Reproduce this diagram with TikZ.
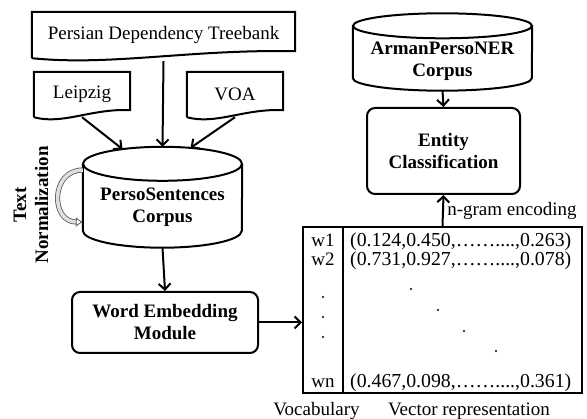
\documentclass[tikz,border=0pt]{standalone}
\usepackage{fontspec}
\setmainfont{Liberation Serif}
\usetikzlibrary{shapes.geometric,arrows.meta,calc}

\tikzset{
  docbox/.style={inner sep=0pt},
  dbase/.style={inner sep=0pt, align=center, minimum height=46pt, font=\fontsize{19}{22}\selectfont\bfseries},
  procbox/.style={rectangle, draw, rounded corners=8pt, line width=2pt, font=\fontsize{19}{22}\selectfont\bfseries, align=center},
  flow/.style={line width=2pt, -{Straight Barb[length=6pt,width=12pt]}},
  normflow/.style={draw=gray!70!black, line width=0.8pt, double=gray!25, double distance=3.5pt, -{Latex[length=7pt,width=10pt,open]}},
}

\begin{document}
\begin{tikzpicture}[x=1pt,y=-1pt,font=\fontsize{19}{22}\selectfont]
\useasboundingbox (0,0) rectangle (587,419);

% sources
\node[docbox, minimum width=263pt, minimum height=46pt] (treebank) at (163.5,35) {Persian Dependency Treebank};
\node[docbox, minimum width=96pt, minimum height=45pt] (leipzig) at (82,94.5) {Leipzig};
\node[docbox, minimum width=96pt, minimum height=45pt] (voa) at (235,94.5) {VOA};
\foreach \n in {treebank,leipzig,voa}
  \draw[line width=2pt] (\n.south west) -- (\n.north west) -- (\n.north east) -- ([yshift=7pt]\n.south east)
    .. controls ($(\n.south east)!0.4!(\n.south west)+(0,9pt)$) and ($(\n.south east)!0.7!(\n.south west)+(0,-8pt)$) .. (\n.south west);

% corpora: text node, cylinder drawn round it
\node[dbase, minimum width=159pt] (sent) at (162.5,207.5) {PersoSentences\\Corpus};
\node[dbase, minimum width=179pt] (arman) at (442.5,61) {ArmanPersoNER\\Corpus};
\foreach \n/\rx/\ry/\up/\dn in {sent/79.5/17/20.5/0,arman/89.5/12.5/12/6}
  \draw[line width=2pt] ([yshift=\up pt]\n.north) ellipse [x radius=\rx pt, y radius=\ry pt]
    ([yshift=\up pt]\n.north west) -- ([yshift=\dn pt]\n.south west)
    arc[start angle=180, end angle=360, x radius=\rx pt, y radius=\ry pt] -- ([yshift=\up pt]\n.north east);
\node[rotate=90, align=center, font=\fontsize{19}{22}\selectfont\bfseries] (norm) at (31,205) {Text\\Normalization};

% modules
\node[procbox, minimum width=186pt, minimum height=61pt] (we) at (165,322.5) {Word Embedding\\Module};
\node[procbox, minimum width=153pt, minimum height=86pt] (entity) at (443.5,151) {Entity\\Classification};

% embedding matrix
\node[draw, line width=2pt, minimum width=279pt, minimum height=166pt, inner sep=0pt] (vecmat) at (442.5,310) {};
\draw[line width=2pt] ([xshift=41pt]vecmat.north west) -- ([xshift=41pt]vecmat.south west);
\node[anchor=base] (w1) at (323,247) {w1};
\node[anchor=base] (w2) at (323,266) {w2};
\node[anchor=base] (wn) at (323,388) {wn};
\begin{scope}[font=\fontsize{19.8}{22}\selectfont]
\node[anchor=base west, inner sep=0pt] (v1) at (350,247) {(0.124,0.450,……....,0.263)};
\node[anchor=base west, inner sep=0pt] (v2) at (350,266) {(0.731,0.927,……....,0.078)};
\node[anchor=base west, inner sep=0pt] (vn) at (350,388) {(0.467,0.098,……....,0.361)};
\end{scope}
\foreach \x/\y in {323/297,323/317,323/337,411/289,438/310,464/331,496/351}
  \fill (\x,\y) circle (1.1pt);
\node (vocab) at (316.5,411) {Vocabulary};
\node (vecrep) at (469,411) {Vector representation};

% connectors
\draw[flow] ([yshift=-3pt]treebank.south) -- ([yshift=37.5pt]sent.north);
\draw[flow] (leipzig.south) -- ([xshift=-40pt,yshift=35.2pt]sent.north);
\draw[flow] (voa.south) -- ([xshift=28pt,yshift=36.4pt]sent.north);
\draw[flow] ([yshift=-17pt]sent.south) -- (we.north);
\draw[flow] (we.east) -- (we.east -| vecmat.west);
\draw[flow] (vecmat.north) -- node[right] (ngram) {n-gram encoding} (entity.south);
\draw[flow] ([yshift=-6.5pt]arman.south) -- (entity.north);
\draw[normflow] ([yshift=37.5pt]sent.west) to[out=180,in=180,looseness=1.6] ([yshift=-14.5pt]sent.west);
\end{tikzpicture}
\end{document}
